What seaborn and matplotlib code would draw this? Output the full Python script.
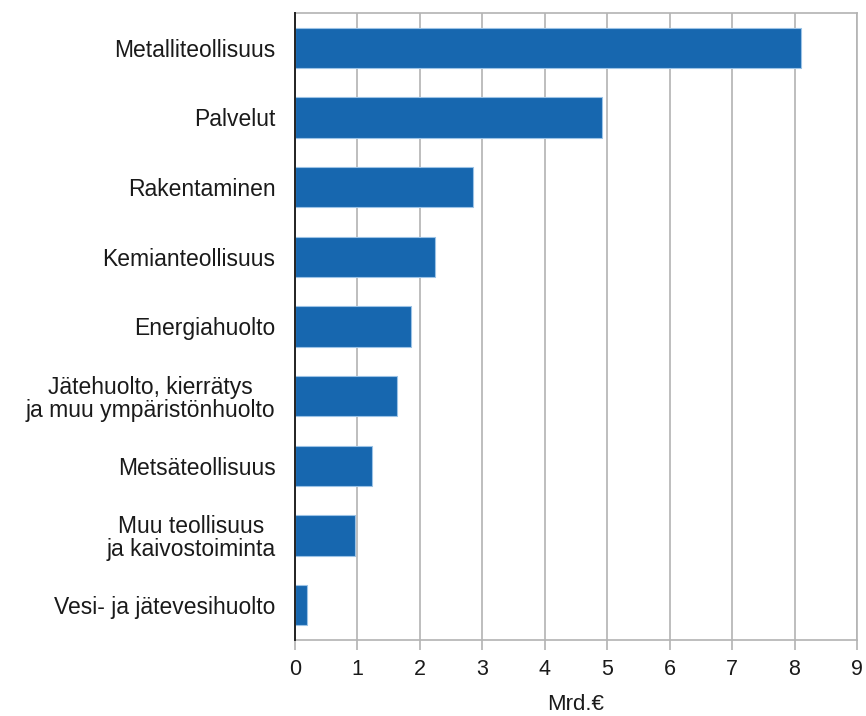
import matplotlib
matplotlib.use("Agg")
import matplotlib.pyplot as plt
import seaborn as sns
import pandas as pd

categories = [
    "Metalliteollisuus",
    "Palvelut",
    "Rakentaminen",
    "Kemianteollisuus",
    "Energiahuolto",
    "Jätehuolto, kierrätys\nja muu ympäristönhuolto",
    "Metsäteollisuus",
    "Muu teollisuus\nja kaivostoiminta",
    "Vesi- ja jätevesihuolto",
]
values = [8.11, 4.91, 2.85, 2.24, 1.86, 1.63, 1.24, 0.96, 0.19]
x_ticks = [0, 1, 2, 3, 4, 5, 6, 7, 8, 9]
x_label = "Mrd.€"

sns.set_theme(style="white")
plt.rcParams["font.family"] = ["Liberation Sans", "DejaVu Sans"]

df = pd.DataFrame({"cat": categories, "val": values})

fig = plt.figure(figsize=(8.66, 7.16), dpi=100)
ax = fig.add_axes([295/866, 1-640/716, (857-295)/866, (640-13)/716])

sns.barplot(data=df, y="cat", x="val", orient="h", color="#1767AF",
            saturation=1, width=0.58, edgecolor="#9cc3e6", linewidth=0.8, ax=ax, zorder=3)

ax.set_xlim(0, 9)
ax.set_ylim(len(categories) - 0.5, -0.5)
ax.set_xticks(x_ticks)
ax.set_xticklabels([str(t) for t in x_ticks], fontsize=15.5, color="#1a1a1a")
ax.set_xlabel(x_label, fontsize=16, color="#1a1a1a", labelpad=10)
ax.set_ylabel("")
ax.xaxis.grid(True, color="#b3b3b3", linewidth=1.2, zorder=0)
ax.yaxis.grid(False)
ax.set_axisbelow(True)

for lab in ax.get_yticklabels():
    lab.set_multialignment("center")
    lab.set_linespacing(1.0)
ax.tick_params(axis="y", length=0, pad=14, labelsize=16.5, labelcolor="#1a1a1a")
ax.tick_params(axis="x", length=7, width=1.2, color="#b3b3b3", bottom=True, pad=7)

for s in ["top", "right", "bottom"]:
    ax.spines[s].set_color("#b3b3b3")
    ax.spines[s].set_linewidth(1.2)
ax.spines["left"].set_color("#222222")
ax.spines["left"].set_linewidth(1.4)
ax.spines["left"].set_zorder(5)

fig.savefig("out.png", dpi=100)
